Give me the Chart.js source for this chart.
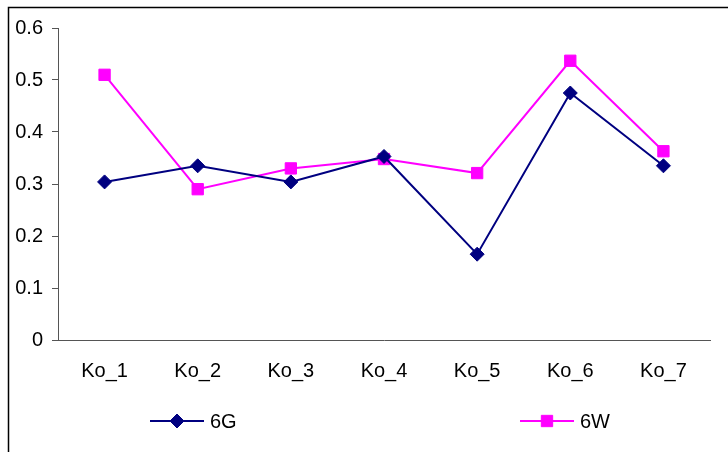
<!DOCTYPE html>
<html>
<head>
<meta charset="utf-8">
<script src="https://cdn.jsdelivr.net/npm/chart.js@4/dist/chart.umd.min.js"></script>
<style>
  html, body { margin: 0; padding: 0; background: #fff; }
  #wrap { width: 728px; height: 452px; position: relative; }
</style>
</head>
<body>
<div id="wrap"><canvas id="c" width="728" height="452"></canvas></div>
<script>
// Categories and series values
const categories = ['Ko_1', 'Ko_2', 'Ko_3', 'Ko_4', 'Ko_5', 'Ko_6', 'Ko_7'];
const values6G = [0.304, 0.335, 0.304, 0.353, 0.165, 0.475, 0.335];
const values6W = [0.51, 0.29, 0.33, 0.348, 0.321, 0.537, 0.363];
const seriesNames = ['6G', '6W'];
const yTicks = [0, 0.1, 0.2, 0.3, 0.4, 0.5, 0.6];

const FONT = { family: '"Liberation Sans", Arial, sans-serif', size: 20 };

// Outer frame of the chart object
const framePlugin = {
  id: 'frame',
  beforeDraw(chart) {
    const ctx = chart.ctx;
    ctx.save();
    ctx.strokeStyle = '#000';
    ctx.lineWidth = 1.5;
    ctx.strokeRect(8.5, 7.5, 740, 460);
    ctx.restore();
  }
};

// Legend with two entries spread across the bottom
const legendPlugin = {
  id: 'spreadLegend',
  afterDraw(chart) {
    const ctx = chart.ctx;
    const y = 421;
    const slots = [150, 520];
    ctx.save();
    chart.data.datasets.forEach((ds, i) => {
      const x0 = slots[i];
      const cx = x0 + 27;
      ctx.strokeStyle = ds.borderColor;
      ctx.lineWidth = 2;
      ctx.beginPath();
      ctx.moveTo(x0, y);
      ctx.lineTo(x0 + 54, y);
      ctx.stroke();
      ctx.fillStyle = ds.pointBackgroundColor;
      ctx.strokeStyle = ds.pointBorderColor;
      ctx.lineWidth = 1;
      ctx.beginPath();
      if (ds.pointStyle === 'rectRot') {
        const r = ds.pointRadius;
        ctx.moveTo(cx, y - r);
        ctx.lineTo(cx + r, y);
        ctx.lineTo(cx, y + r);
        ctx.lineTo(cx - r, y);
      } else {
        const s = ds.pointRadius * Math.SQRT1_2;
        ctx.rect(cx - s, y - s, 2 * s, 2 * s);
      }
      ctx.closePath();
      ctx.fill();
      ctx.stroke();
      ctx.fillStyle = '#000';
      ctx.font = FONT.size + 'px ' + FONT.family;
      ctx.textBaseline = 'middle';
      ctx.textAlign = 'left';
      ctx.fillText(ds.label, x0 + 60, y + 1);
    });
    ctx.restore();
  }
};

new Chart(document.getElementById('c'), {
  type: 'line',
  data: {
    labels: categories,
    datasets: [
      {
        label: seriesNames[0],
        data: values6G,
        borderColor: '#000080',
        backgroundColor: '#000080',
        pointBackgroundColor: '#000080',
        pointBorderColor: '#000080',
        pointStyle: 'rectRot',
        pointRadius: 7,
        pointBorderWidth: 1,
        borderWidth: 2,
        tension: 0
      },
      {
        label: seriesNames[1],
        data: values6W,
        borderColor: '#FF00FF',
        backgroundColor: '#FF00FF',
        pointBackgroundColor: '#FF00FF',
        pointBorderColor: '#FF00FF',
        pointStyle: 'rect',
        pointRadius: 8,
        pointBorderWidth: 1,
        borderWidth: 2,
        tension: 0
      }
    ]
  },
  options: {
    responsive: false,
    animation: false,
    devicePixelRatio: 1,
    layout: { padding: { left: 0, right: 18, top: 28, bottom: 0 } },
    plugins: {
      legend: { display: false },
      tooltip: { enabled: false }
    },
    scales: {
      x: {
        type: 'category',
        offset: true,
        grid: { display: false },
        border: { display: true, color: '#555', width: 1 },
        ticks: { color: '#000', font: FONT, padding: 11, maxRotation: 0 },
        afterFit(scale) { scale.height = 112; }
      },
      y: {
        min: 0,
        max: 0.6,
        afterBuildTicks(scale) { scale.ticks = yTicks.map(v => ({ value: v })); },
        grid: { display: true, drawOnChartArea: false, drawTicks: true, tickLength: 6, color: '#555' },
        border: { display: true, color: '#555', width: 1 },
        ticks: {
          color: '#000', font: FONT, padding: 9,
          callback: v => String(Math.round(v * 10) / 10)
        },
        afterFit(scale) { scale.width = 58; }
      }
    }
  },
  plugins: [framePlugin, legendPlugin]
});
</script>
</body>
</html>
